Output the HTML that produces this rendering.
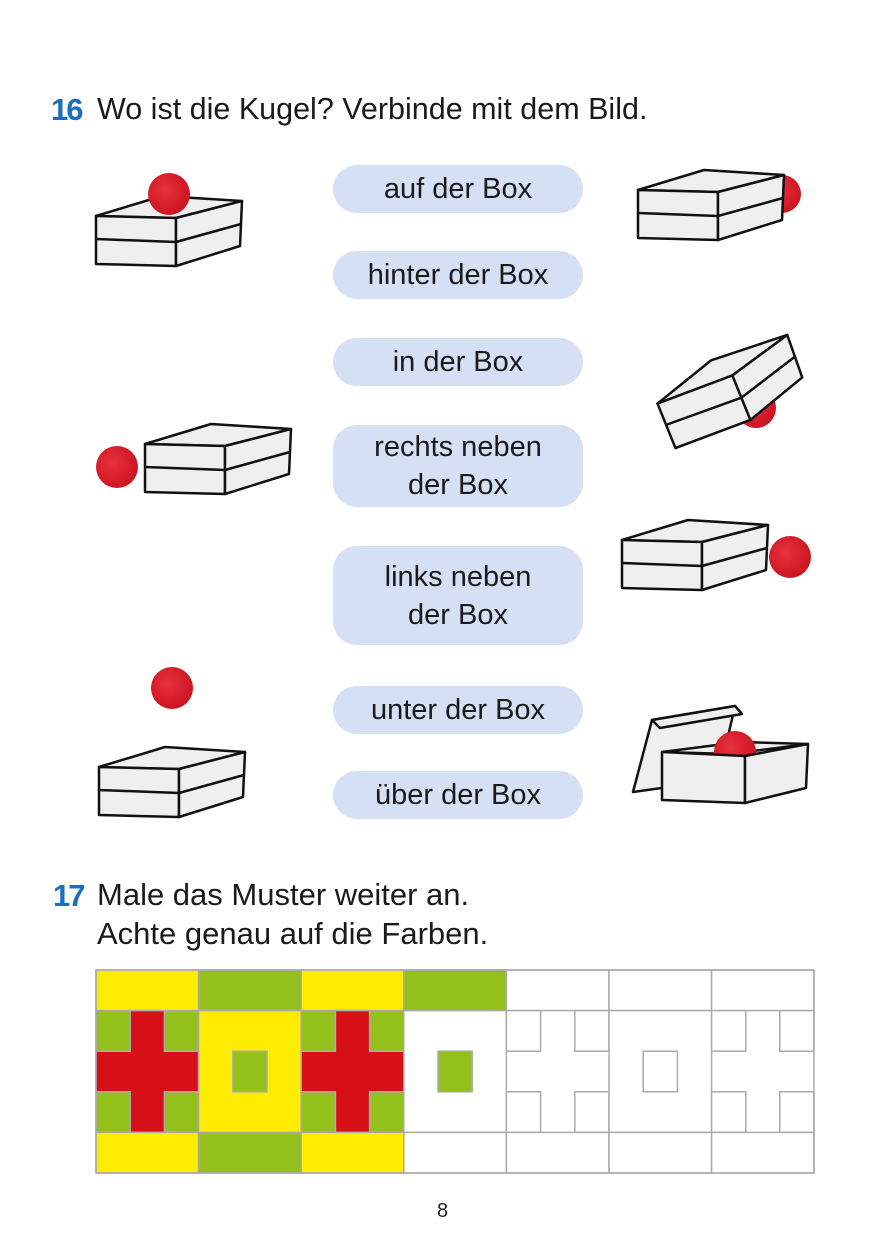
<!DOCTYPE html>
<html><head><meta charset="utf-8"><style>
html,body{margin:0;padding:0;background:#fff;}
body{width:887px;height:1258px;position:relative;overflow:hidden;font-family:"Liberation Sans",sans-serif;}
.t{position:absolute;font-size:30.5px;color:#1a1a1a;white-space:nowrap;}
.t2{font-size:31px;}
.n{position:absolute;font-size:31px;font-weight:bold;color:#1c6fbf;letter-spacing:-2px;}
.p{position:absolute;left:333px;width:250px;background:#d5e0f4;border-radius:24px;display:flex;align-items:center;justify-content:center;text-align:center;font-size:29px;line-height:38px;color:#1a1a1a;}
svg{position:absolute;left:0;top:0;}
</style></head><body>
<div class="n" style="left:51px;top:92px;">16</div>
<div class="t" style="left:97px;top:92px;">Wo ist die Kugel? Verbinde mit dem Bild.</div>
<div class="p" style="top:165px;height:48px;">auf der Box</div>
<div class="p" style="top:251px;height:48px;">hinter der Box</div>
<div class="p" style="top:338px;height:48px;">in der Box</div>
<div class="p" style="top:425px;height:82px;">rechts neben<br>der Box</div>
<div class="p" style="top:546px;height:99px;">links neben<br>der Box</div>
<div class="p" style="top:686px;height:48px;">unter der Box</div>
<div class="p" style="top:771px;height:48px;">über der Box</div>
<div class="n" style="left:53px;top:878px;">17</div>
<div class="t t2" style="left:97px;top:877px;">Male das Muster weiter an.</div>
<div class="t t2" style="left:97px;top:916px;">Achte genau auf die Farben.</div>
<div style="position:absolute;left:437px;top:1200px;font-size:20px;color:#222;">8</div>
<svg width="887" height="1258" viewBox="0 0 887 1258">
<defs>
<g id="box" stroke="#111" stroke-width="2.5" stroke-linejoin="round" fill="#f0eff0">
<polygon points="0,20 80,22 146,5 66,0"/>
<polygon points="0,20 80,22 80,70 0,68"/>
<polygon points="80,22 146,5 144,50 80,70"/>
<line x1="0" y1="43" x2="80" y2="46" fill="none"/>
<line x1="80" y1="46" x2="145" y2="28" fill="none"/>
</g>
<radialGradient id="rb" cx="0.4" cy="0.4" r="0.7"><stop offset="0" stop-color="#e8323c"/><stop offset="1" stop-color="#c8101e"/></radialGradient>
</defs>
<use href="#box" x="96" y="196"/>
<circle cx="169" cy="194" r="21" fill="url(#rb)"/>
<circle cx="782" cy="194" r="19" fill="url(#rb)"/>
<use href="#box" x="638" y="170"/>
<circle cx="756" cy="408" r="20" fill="url(#rb)"/>
<g transform="translate(650,385) rotate(-22)"><use href="#box" x="0" y="0"/></g>
<circle cx="117" cy="467" r="21" fill="url(#rb)"/>
<use href="#box" x="145" y="424"/>
<use href="#box" x="622" y="520"/>
<circle cx="790" cy="557" r="21" fill="url(#rb)"/>
<circle cx="172" cy="688" r="21" fill="url(#rb)"/>
<use href="#box" x="99" y="747"/>
<g stroke="#111" stroke-width="2.5" stroke-linejoin="round" fill="#f0eff0">
<polygon points="633,792 652,720 735,706 718,780"/>
<polygon points="652,720 660,728 742,714 735,706"/>
<polygon points="662,752 740,742 808,744 730,754"/>
</g>
<circle cx="735" cy="752" r="21" fill="url(#rb)"/>
<g stroke="#111" stroke-width="2.5" stroke-linejoin="round" fill="#f0eff0">
<polygon points="662,752 745,756 745,803 662,800"/>
<polygon points="745,756 808,744 806,788 745,803"/>
</g>
<rect x="96" y="970" width="718" height="203" fill="#fff"/>
<g stroke="#aaa" stroke-width="1.5">
<rect x="96" y="970" width="102.6" height="40.6" fill="#ffec00"/>
<rect x="96" y="1010.6" width="34.2" height="40.6" fill="#94c01c"/>
<rect x="164.4" y="1010.6" width="34.2" height="40.6" fill="#94c01c"/>
<rect x="96" y="1091.8" width="34.2" height="40.6" fill="#94c01c"/>
<rect x="164.4" y="1091.8" width="34.2" height="40.6" fill="#94c01c"/>
<polygon points="130.2,1010.6 164.4,1010.6 164.4,1051.2 198.6,1051.2 198.6,1091.8 164.4,1091.8 164.4,1132.4 130.2,1132.4 130.2,1091.8 96,1091.8 96,1051.2 130.2,1051.2" fill="#d70f17"/>
<rect x="96" y="1132.4" width="102.6" height="40.6" fill="#ffec00"/>
<rect x="198.6" y="970" width="102.6" height="40.6" fill="#94c01c"/>
<rect x="198.6" y="1010.6" width="102.6" height="121.8" fill="#ffec00"/>
<rect x="232.8" y="1051.2" width="34.2" height="40.6" fill="#94c01c"/>
<rect x="198.6" y="1132.4" width="102.6" height="40.6" fill="#94c01c"/>
<rect x="301.2" y="970" width="102.6" height="40.6" fill="#ffec00"/>
<rect x="301.2" y="1010.6" width="34.2" height="40.6" fill="#94c01c"/>
<rect x="369.6" y="1010.6" width="34.2" height="40.6" fill="#94c01c"/>
<rect x="301.2" y="1091.8" width="34.2" height="40.6" fill="#94c01c"/>
<rect x="369.6" y="1091.8" width="34.2" height="40.6" fill="#94c01c"/>
<polygon points="335.4,1010.6 369.6,1010.6 369.6,1051.2 403.8,1051.2 403.8,1091.8 369.6,1091.8 369.6,1132.4 335.4,1132.4 335.4,1091.8 301.2,1091.8 301.2,1051.2 335.4,1051.2" fill="#d70f17"/>
<rect x="301.2" y="1132.4" width="102.6" height="40.6" fill="#ffec00"/>
<rect x="403.8" y="970" width="102.6" height="40.6" fill="#94c01c"/>
<rect x="403.8" y="1010.6" width="102.6" height="121.8" fill="#fff"/>
<rect x="438" y="1051.2" width="34.2" height="40.6" fill="#94c01c"/>
<rect x="403.8" y="1132.4" width="102.6" height="40.6" fill="#fff"/>
<rect x="506.4" y="970" width="102.6" height="40.6" fill="#fff"/>
<rect x="506.4" y="1010.6" width="34.2" height="40.6" fill="#fff"/>
<rect x="574.8" y="1010.6" width="34.2" height="40.6" fill="#fff"/>
<rect x="506.4" y="1091.8" width="34.2" height="40.6" fill="#fff"/>
<rect x="574.8" y="1091.8" width="34.2" height="40.6" fill="#fff"/>
<rect x="506.4" y="1132.4" width="102.6" height="40.6" fill="#fff"/>
<rect x="609" y="970" width="102.6" height="40.6" fill="#fff"/>
<rect x="609" y="1010.6" width="102.6" height="121.8" fill="#fff"/>
<rect x="643.2" y="1051.2" width="34.2" height="40.6" fill="#fff"/>
<rect x="609" y="1132.4" width="102.6" height="40.6" fill="#fff"/>
<rect x="711.6" y="970" width="102.4" height="40.6" fill="#fff"/>
<rect x="711.6" y="1010.6" width="34.2" height="40.6" fill="#fff"/>
<rect x="779.8" y="1010.6" width="34.2" height="40.6" fill="#fff"/>
<rect x="711.6" y="1091.8" width="34.2" height="40.6" fill="#fff"/>
<rect x="779.8" y="1091.8" width="34.2" height="40.6" fill="#fff"/>
<rect x="711.6" y="1132.4" width="102.4" height="40.6" fill="#fff"/>
<rect x="96" y="970" width="718" height="203" fill="none"/>
</g>
</svg>
</body></html>
